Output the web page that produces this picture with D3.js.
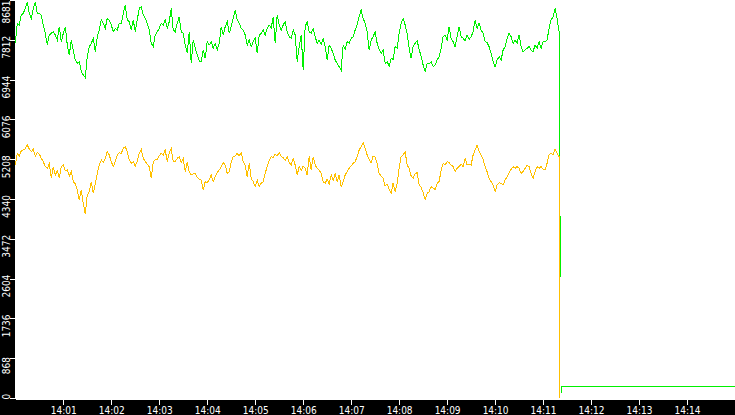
<!DOCTYPE html>
<html>
<head>
<meta charset="utf-8">
<script src="https://cdn.jsdelivr.net/npm/d3@7"></script>
<style>
  body { margin: 0; background: #fff; }
  svg { display: block; }
  .tick text { font-family: "DejaVu Sans Condensed", "DejaVu Sans", sans-serif; font-stretch: condensed; font-size: 10px; fill: #fff; }
</style>
</head>
<body>
<div id="chart"></div>
<script>
// samples every 2.5 s starting at 14:00:00
var stepMs = 2500;

var greenValues = [7736,8172,8136,8354,8390,8499,8645,8390,8281,8499,
  8645,8390,8390,8354,8136,7954,7700,7918,7954,7990,
  7918,7809,8099,7772,7954,8099,7700,7481,7809,7590,
  7372,7300,7336,7118,7045,6987,7445,7663,7736,7845,
  7554,7881,8027,8245,8172,8063,8281,8245,8136,7990,
  8063,8027,8172,8172,8390,8572,8245,8208,8027,8245,
  7990,8245,8499,8536,8354,8281,8172,8027,7736,7663,
  7918,7990,8063,8172,8136,8245,8063,8208,8499,8027,
  7990,8172,8318,7990,7954,7700,7518,7990,7300,7809,
  7627,7481,7351,7336,7590,7409,7772,7700,7772,7627,
  7736,7590,7736,8099,7918,8099,8208,7954,8099,8281,
  8463,8245,8172,8063,8027,7918,7700,7809,7663,7772,
  7845,7518,7918,7954,8027,7918,8063,8136,8063,8318,
  7736,8354,8136,8027,8136,8208,7990,7881,7845,8027,
  7918,7336,7663,7918,7154,8099,8208,7990,7954,8063,
  7881,7736,7809,7721,7845,7663,7372,7700,7627,7518,
  7372,7300,7227,7154,7700,7605,7772,7736,7845,7881,
  8027,8136,8318,8463,8281,8172,7990,7590,7809,7881,
  7990,7736,7605,7518,7590,7300,7336,7241,7409,7387,
  7663,7627,7954,8172,8281,8136,7954,7627,7409,7663,
  7736,7794,7605,7445,7263,7132,7300,7285,7336,7227,
  7263,7372,7445,7627,7881,7918,7809,8099,7845,7772,
  7663,7881,8099,7881,7845,7794,7918,7823,7881,7990,
  8245,8063,8172,8027,7954,7772,7750,7663,7518,7336,
  7227,7372,7445,7372,7590,7663,7845,7954,7881,7736,
  7809,7736,7918,7663,7554,7590,7627,7663,7590,7554,
  7700,7627,7772,7627,7772,7772,7809,8063,8245,8318,
  8499,8281,7990];

var orangeValues = [5082,5337,5279,5395,5410,5439,5519,5431,5373,5424,
  5279,5359,5322,5228,5155,5046,5010,5104,4792,5046,
  4864,4959,4792,5046,5082,4959,4973,4842,4937,4719,
  4668,4537,4319,4537,4246,4014,4428,4501,4719,4464,
  4683,4901,5082,5191,5133,5228,5373,5300,5155,5046,
  5155,5300,5352,5337,5446,5482,5373,5191,5119,5155,
  5061,5155,5337,5424,5228,5155,5104,5046,4792,5155,
  5191,5206,5279,5337,5300,5410,5155,5337,5446,5155,
  5155,5228,5264,5133,5228,4937,5155,4937,4864,4886,
  4901,4813,4770,4755,4537,4719,4697,4755,4864,4719,
  4828,4915,4973,5046,5133,5082,4901,4937,5155,5264,
  5279,5337,5279,5352,5155,5082,4828,5119,4792,4719,
  4610,4755,4610,4683,4719,4901,5046,5177,5264,5250,
  5322,5279,5352,5264,5250,5177,5264,5133,5082,5228,
  5082,4864,5046,4959,5061,5010,4864,5279,4973,5264,
  5082,5010,4973,4901,4719,4683,4770,4668,4864,4741,
  4886,4719,4864,4595,4719,4864,4937,5010,5061,5119,
  5155,5264,5410,5482,5570,5446,5300,5206,5133,5279,
  5250,5119,4901,4842,4792,4624,4668,4551,4464,4697,
  4501,4683,5010,5264,5300,5373,5082,5010,4842,4792,
  4886,4915,4646,4595,4479,4333,4464,4501,4610,4573,
  4551,4683,4719,4973,5119,5082,5155,5133,5082,5046,
  4937,5010,5046,5104,5046,5228,5082,5104,5082,5300,
  5410,5519,5373,5300,5206,5046,4937,4792,4719,4646,
  4501,4646,4697,4683,4646,4755,4828,4915,4988,5046,
  5010,5046,5010,4901,4937,5010,5082,5046,4901,4792,
  4937,5046,5010,5046,4995,4973,5119,5300,5337,5300,
  5431,5337,5264];

// the drop at the end (seconds after 14:00); null = gap in the record
var greenTailSec = [680.4, 681.5, 681.5, 682.0, 682.75, 682.75, 900];
var greenTailVal = [3950, 3950, 2640, null, 110, 240, 240];
var orangeTailSec = [680.3, 680.4];
var orangeTailVal = [5264, 0];

var yTickValues = [0, 868, 1736, 2604, 3472, 4340, 5208, 6076, 6944, 7812, 8681];
var xTickMinutes = [1,2,3,4,5,6,7,8,9,10,11,12,13,14];

var width = 735, height = 415;
var base = new Date(2000, 0, 1, 14, 0, 0);

function toSeries(values, tailSec, tailVal) {
  var pts = values.map(function(v, i) {
    return {t: new Date(base.getTime() + i * stepMs), v: v};
  });
  tailSec.forEach(function(s, i) {
    pts.push({t: new Date(base.getTime() + s * 1000), v: tailVal[i]});
  });
  return pts;
}

var green = toSeries(greenValues, greenTailSec, greenTailVal);
var orange = toSeries(orangeValues, orangeTailSec, orangeTailVal);

var svg = d3.select("#chart")
  .append("svg")
    .attr("width", width)
    .attr("height", height);

svg.append("rect").attr("width", width).attr("height", height).attr("fill", "#fff");

var x = d3.scaleTime()
  .domain([base, new Date(base.getTime() + 15 * 60000)])
  .range([15.3, 735]);

var y = d3.scaleLinear()
  .domain([0, 8681])
  .range([398, 0]);

var line = d3.line()
  .defined(function(d) { return d.v !== null; })
  .x(function(d) { return x(d.t); })
  .y(function(d) { return y(d.v); });

svg.append("path")
  .datum(green)
  .attr("fill", "none")
  .attr("stroke", "#00f000")
  .attr("stroke-width", 1)
  .attr("shape-rendering", "crispEdges")
  .attr("d", line);

svg.append("path")
  .datum(orange)
  .attr("fill", "none")
  .attr("stroke", "#ffc000")
  .attr("stroke-width", 1)
  .attr("shape-rendering", "crispEdges")
  .attr("d", line);

// black frame strips
svg.append("rect").attr("x", 0).attr("y", 0).attr("width", 15).attr("height", height).attr("fill", "#000");
svg.append("rect").attr("x", 0).attr("y", 399).attr("width", width).attr("height", height - 399).attr("fill", "#000");

// X axis
var xAxis = svg.append("g")
  .attr("transform", "translate(0,398.5)")
  .call(d3.axisBottom(x)
    .tickValues(xTickMinutes.map(function(m) { return new Date(base.getTime() + m * 60000); }))
    .tickFormat(d3.timeFormat("%H:%M"))
    .tickSize(6)
    .tickSizeOuter(0)
    .tickPadding(2));
xAxis.select(".domain").attr("stroke", "#fff").attr("shape-rendering", "crispEdges");
xAxis.selectAll(".tick line").attr("stroke", "#fff").attr("shape-rendering", "crispEdges");

// Y axis
var yAxis = svg.append("g")
  .attr("transform", "translate(15,0)")
  .call(d3.axisLeft(y)
    .tickValues(yTickValues)
    .tickFormat(d3.format("d"))
    .tickSize(5)
    .tickSizeOuter(0));
yAxis.select(".domain").remove();
yAxis.selectAll(".tick line").attr("stroke", "#fff").attr("shape-rendering", "crispEdges");
yAxis.selectAll(".tick text")
  .attr("x", null)
  .attr("dy", null)
  .attr("text-anchor", function(d, i) {
    if (i === 0) return "start";
    if (i === yTickValues.length - 1) return "end";
    return "middle";
  })
  .attr("transform", function(d, i) {
    var off = 7;
    if (i === 0) off = 1;
    if (i === yTickValues.length - 1) off = -y(d);
    return "translate(-5," + off + ") rotate(-90)";
  });
</script>
</body>
</html>
